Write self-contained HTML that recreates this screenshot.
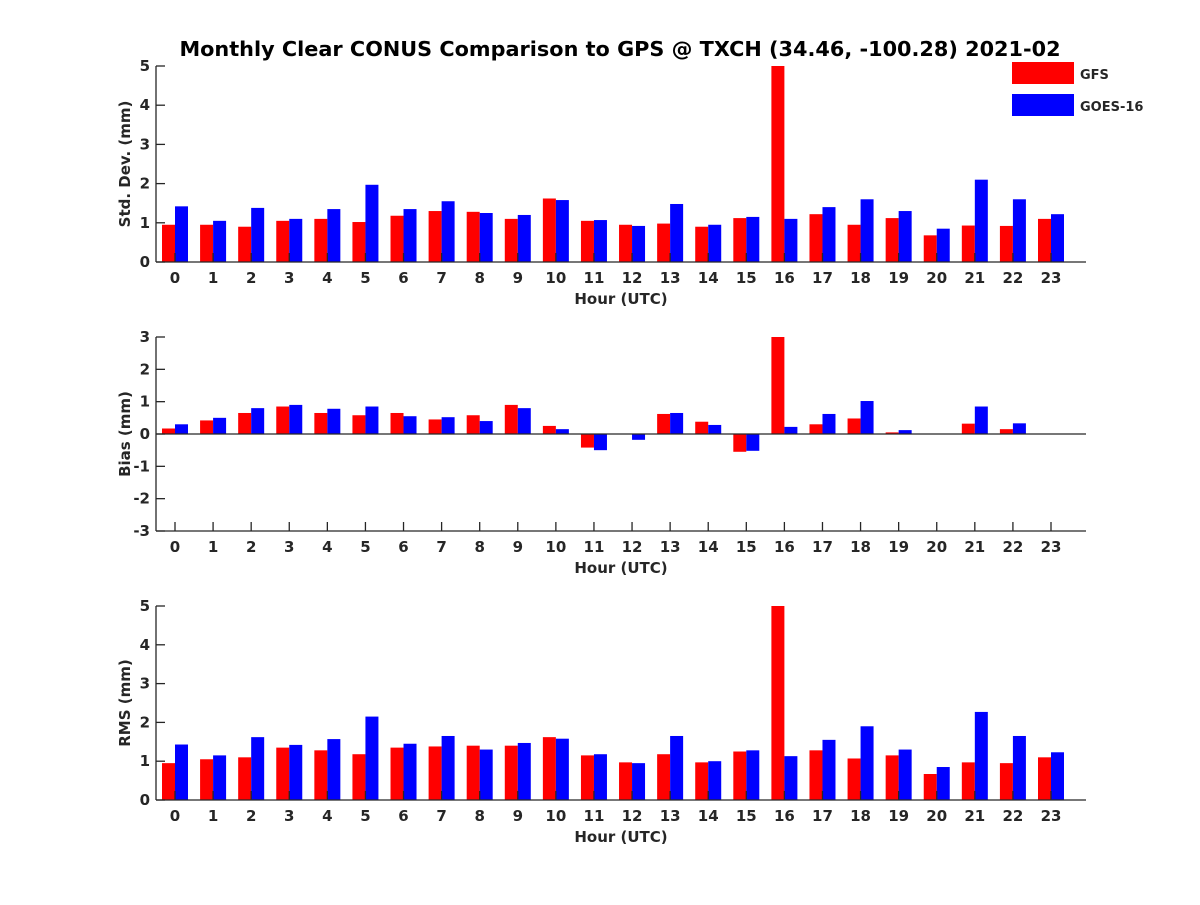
<!DOCTYPE html>
<html><head><meta charset="utf-8"><style>
body{margin:0;background:#fff}
svg text{font-family:"DejaVu Sans","Liberation Sans",sans-serif;font-weight:bold;fill:#262626}
</style></head><body>
<svg id="chart" width="1200" height="900" xmlns="http://www.w3.org/2000/svg">
<rect width="1200" height="900" fill="#fff"/>
<text x="620" y="56" text-anchor="middle" font-size="20.8" style="fill:#000">Monthly Clear CONUS Comparison to GPS @ TXCH (34.46, -100.28) 2021-02</text>
<g>
<rect x="1012" y="62" width="62" height="22" fill="#ff0000"/>
<text x="1080" y="79" font-size="13">GFS</text>
<rect x="1012" y="94" width="62" height="22" fill="#0000ff"/>
<text x="1080" y="111" font-size="13">GOES-16</text>
</g>
</svg>
<script>
const hours=[0,1,2,3,4,5,6,7,8,9,10,11,12,13,14,15,16,17,18,19,20,21,22,23];
const stdGFS=[0.95,0.95,0.9,1.05,1.1,1.02,1.18,1.3,1.28,1.1,1.62,1.05,0.95,0.98,0.9,1.12,5,1.22,0.95,1.12,0.68,0.93,0.92,1.1];
const stdGOES=[1.42,1.05,1.38,1.1,1.35,1.97,1.35,1.55,1.25,1.2,1.58,1.07,0.92,1.48,0.95,1.15,1.1,1.4,1.6,1.3,0.85,2.1,1.6,1.22];
const biasGFS=[0.17,0.42,0.65,0.85,0.65,0.58,0.65,0.45,0.58,0.9,0.25,-0.42,0,0.62,0.38,-0.55,3,0.3,0.48,0.05,0,0.32,0.15,0];
const biasGOES=[0.3,0.5,0.8,0.9,0.78,0.85,0.55,0.52,0.4,0.8,0.15,-0.5,-0.18,0.65,0.28,-0.52,0.22,0.62,1.02,0.12,0,0.85,0.33,0];
const rmsGFS=[0.95,1.05,1.1,1.35,1.28,1.18,1.35,1.38,1.4,1.4,1.62,1.15,0.97,1.18,0.97,1.25,5,1.28,1.07,1.15,0.67,0.97,0.95,1.1];
const rmsGOES=[1.43,1.15,1.62,1.42,1.57,2.15,1.45,1.65,1.3,1.47,1.58,1.18,0.95,1.65,1.0,1.28,1.13,1.55,1.9,1.3,0.85,2.27,1.65,1.23];
const stdTicks=[0,1,2,3,4,5];
const biasTicks=[-3,-2,-1,0,1,2,3];
const rmsTicks=[0,1,2,3,4,5];
const NS="http://www.w3.org/2000/svg";
const svg=document.getElementById('chart');
function mk(tag,attrs,parent){const e=document.createElementNS(NS,tag);for(const k in attrs)e.setAttribute(k,attrs[k]);(parent||svg).appendChild(e);return e;}
const L=156,R=1086;
function xs(h){return 175+h*(1051-175)/23;}
function panel(key,top,bottom,ymin,ymax,ticks,gfs,goes,ylabel){
  const g=mk('g',{});
  
  
  const ys=v=>bottom-(v-ymin)/(ymax-ymin)*(bottom-top);
  const base=ys(Math.max(ymin,0));
  hours.forEach((h,i)=>{
    const c=xs(h);
    [[gfs[i],'#ff0000',-13,'gfs'],[goes[i],'#0000ff',0,'goes16']].forEach(([v,col,off,nm])=>{
      const y=ys(v);
      const r=mk('rect',{x:c+off,y:Math.min(y,base),width:13,height:Math.abs(base-y),fill:col},g);
      
      
    });
  });
  const ax=mk('g',{stroke:'#262626','stroke-width':1.3,fill:'none'},g);
  
  
  mk('line',{x1:L,y1:top,x2:L,y2:bottom},ax);
  mk('line',{x1:L,y1:bottom,x2:R,y2:bottom},ax);
  if(ymin<0) mk('line',{x1:L,y1:ys(0),x2:R,y2:ys(0)},ax);
  ticks.forEach(t=>{
    const y=ys(t);
    mk('line',{x1:L,y1:y,x2:L+9,y2:y},ax);
    const tx=mk('text',{x:L-6,y:y+5,'text-anchor':'end','font-size':15},g);
    tx.textContent=t;
    
    
  });
  hours.forEach(h=>{
    const x=xs(h);
    mk('line',{x1:x,y1:bottom,x2:x,y2:bottom-9},ax);
    const tx=mk('text',{x:x,y:bottom+21,'text-anchor':'middle','font-size':15},g);
    tx.textContent=h;
    
    
  });
  const xl=mk('text',{x:621,y:bottom+42,'text-anchor':'middle','font-size':15},g);
  xl.textContent='Hour (UTC)';
  
  
  const cy=(top+bottom)/2;
  const yl=mk('text',{x:130,y:cy,'text-anchor':'middle','font-size':15,transform:'rotate(-90 130 '+cy+')'},g);
  yl.textContent=ylabel;
  
  
}
panel('std',66,262,0,5,stdTicks,stdGFS,stdGOES,'Std. Dev. (mm)');
panel('bias',337,531,-3,3,biasTicks,biasGFS,biasGOES,'Bias (mm)');
panel('rms',606,800,0,5,rmsTicks,rmsGFS,rmsGOES,'RMS (mm)');
</script>
</body></html>
